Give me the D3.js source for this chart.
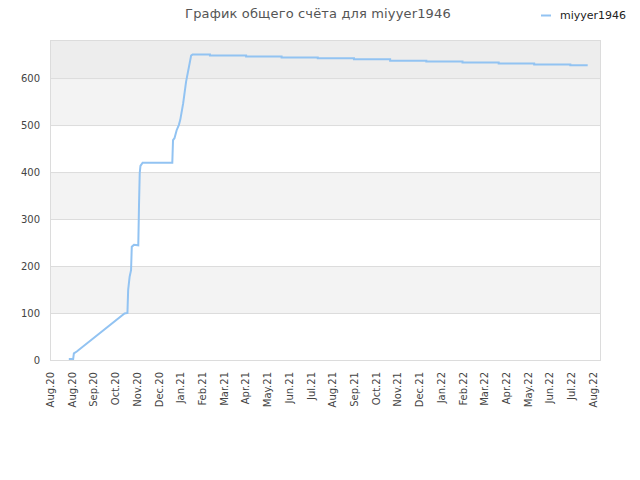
<!DOCTYPE html>
<html>
<head>
<meta charset="utf-8">
<script src="https://cdn.jsdelivr.net/npm/d3@7"></script>
<style>
    body { margin: 0; background: #fff; }
    svg { display: block; font-family: "DejaVu Sans", sans-serif; }
</style>
</head>
<body>
<div id="chart"></div>
<script>
// score history
const dates = [
    "2020-08-27", "2020-09-02", "2020-09-03", "2020-09-07", "2020-11-12", "2020-11-16",
    "2020-11-17", "2020-11-19", "2020-11-21", "2020-11-22", "2020-11-25", "2020-12-01",
    "2020-12-02", "2020-12-03", "2020-12-04", "2020-12-07", "2021-01-17", "2021-01-18",
    "2021-01-20", "2021-01-23", "2021-01-26", "2021-01-28", "2021-02-01", "2021-02-05",
    "2021-02-12", "2021-02-14", "2021-03-10", "2021-03-10", "2021-04-29", "2021-04-29",
    "2021-06-17", "2021-06-17", "2021-08-06", "2021-08-06", "2021-09-25", "2021-09-25",
    "2021-11-14", "2021-11-14", "2022-01-03", "2022-01-03", "2022-02-22", "2022-02-22",
    "2022-04-13", "2022-04-13", "2022-06-01", "2022-06-01", "2022-07-21", "2022-07-21",
    "2022-08-14"
];
const scores = [
    2, 2, 14, 18, 99, 100,
    149, 177, 191, 241, 245, 244,
    330, 398, 413, 420, 420, 468,
    472, 489, 500, 511, 546, 592,
    648, 650, 650, 648, 648, 646,
    646, 644, 644, 642, 642, 640,
    640, 637, 637, 635, 635, 633,
    633, 631, 631, 629, 629, 627,
    627
];
const tickLabels = [
    "Aug.20", "Aug.20", "Sep.20", "Oct.20", "Nov.20", "Dec.20", "Jan.21", "Feb.21", "Mar.21",
    "Apr.21", "May.21", "Jun.21", "Jul.21", "Aug.21", "Sep.21", "Oct.21", "Nov.21", "Dec.21",
    "Jan.22", "Feb.22", "Mar.22", "Apr.22", "May.22", "Jun.22", "Jul.22", "Aug.22"
];
const yTicks = [0, 100, 200, 300, 400, 500, 600];
const playerName = "miyyer1946";
const titleText = "График общего счёта для miyyer1946";

const W = 640, H = 480;
const margin = { left: 50, right: 40, top: 40, bottom: 120 };

const parse = d3.utcParse("%Y-%m-%d");
const data = dates.map((d, i) => ({ date: parse(d), value: scores[i] }));

// ticks sit every 30 days from the first of August
const start = parse("2020-08-01");
const tickDates = tickLabels.map((_, i) => d3.utcDay.offset(start, i * 30));

const x = d3.scaleUtc()
    .domain([start, parse("2022-08-31")])
    .range([margin.left, W - margin.right]);
const y = d3.scaleLinear()
    .domain([0, 681])
    .range([H - margin.bottom, margin.top]);

const svg = d3.select("#chart").append("svg")
    .attr("viewBox", [0, 0, W, H])
    .attr("width", W)
    .attr("height", H);

// alternating bands
const bandEdges = yTicks.concat([y.domain()[1]]);
const bandFill = ["#ffffff", "#f3f3f3", "#ffffff", "#f3f3f3", "#ffffff", "#f3f3f3", "#ededed"];
svg.append("g").selectAll("rect")
    .data(d3.pairs(bandEdges))
    .join("rect")
    .attr("x", x.range()[0])
    .attr("width", x.range()[1] - x.range()[0])
    .attr("y", d => y(d[1]))
    .attr("height", d => y(d[0]) - y(d[1]))
    .attr("fill", (d, i) => bandFill[i]);

// grid lines
svg.append("g").selectAll("line")
    .data(yTicks.slice(1))
    .join("line")
    .attr("x1", x.range()[0])
    .attr("x2", x.range()[1])
    .attr("y1", d => y(d) + 0.5)
    .attr("y2", d => y(d) + 0.5)
    .attr("stroke", "#dcdcdc");

svg.append("rect")
    .attr("x", x.range()[0] + 0.5)
    .attr("y", y.range()[1] + 0.5)
    .attr("width", x.range()[1] - x.range()[0])
    .attr("height", y.range()[0] - y.range()[1])
    .attr("fill", "none")
    .attr("stroke", "#dcdcdc");

// y axis
const yAxis = svg.append("g")
    .attr("transform", `translate(${x.range()[0]},0)`)
    .call(d3.axisLeft(y).tickValues(yTicks).tickSize(0).tickPadding(10));
yAxis.select(".domain").remove();
yAxis.selectAll("text")
    .attr("font-size", 10)
    .attr("font-family", "DejaVu Sans")
    .attr("fill", "#444");

// x axis, labels turned upright
const xAxis = svg.append("g")
    .attr("transform", `translate(0,${y.range()[0]})`)
    .call(d3.axisBottom(x).tickValues(tickDates).tickSize(0)
        .tickFormat((d, i) => tickLabels[i]));
xAxis.select(".domain").remove();
xAxis.selectAll("text")
    .attr("font-size", 10)
    .attr("font-family", "DejaVu Sans")
    .attr("fill", "#444")
    .attr("text-anchor", "end")
    .attr("dy", "0.35em")
    .attr("transform", "translate(0,12) rotate(-90)")
    .attr("x", 0)
    .attr("y", 0);

// score line
const line = d3.line()
    .x(d => x(d.date))
    .y(d => y(d.value));
svg.append("path")
    .datum(data)
    .attr("d", line)
    .attr("fill", "none")
    .attr("stroke", "#92c3f2")
    .attr("stroke-width", 2);

// title
svg.append("text")
    .attr("x", 318)
    .attr("y", 18)
    .attr("text-anchor", "middle")
    .attr("font-size", 13)
    .attr("letter-spacing", 0.15)
    .attr("fill", "#555")
    .text(titleText);

// legend
const legend = svg.append("g").attr("transform", "translate(541,15)");
legend.append("line")
    .attr("x1", 0).attr("x2", 10)
    .attr("y1", 0.5).attr("y2", 0.5)
    .attr("stroke", "#92c3f2")
    .attr("stroke-width", 2);
legend.append("text")
    .attr("x", 19)
    .attr("y", 4)
    .attr("font-size", 11)
    .attr("fill", "#222")
    .text(playerName);
</script>
</body>
</html>
